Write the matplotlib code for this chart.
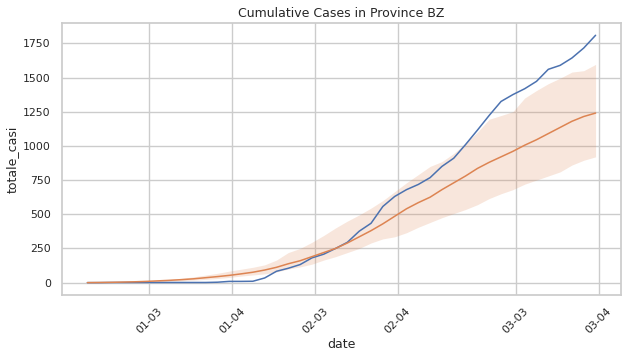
import matplotlib
matplotlib.use("Agg")
import matplotlib.pyplot as plt
import seaborn as sns
import pandas as pd

sns.set_theme(style="whitegrid")
plt.rcParams['font.family'] = ['DejaVu Sans']

# one reading per day, 2020-02-24 .. 2020-04-07 (18:00 bulletins)
dates = pd.date_range("2020-02-24 18:00", periods=44, freq="D")

totale_casi = [0, 0, 1, 1, 1, 1, 1, 1, 1, 1,
               1, 3, 9, 9, 10, 34, 83, 105, 132, 181,
               208, 250, 295, 376, 434, 557, 630, 680, 718, 768,
               850, 910, 1010, 1115, 1223, 1325, 1375, 1418, 1472, 1560,
               1589, 1643, 1716, 1809]

pred_mean = [0, 1, 2, 4, 6, 9, 13, 17, 22, 28,
             36, 44, 53, 64, 76, 92, 112, 138, 160, 190,
             220, 250, 290, 335, 380, 430, 485, 540, 585, 625,
             680, 730, 780, 835, 880, 920, 960, 1005, 1045, 1090,
             1135, 1180, 1215, 1240]

pred_low = [0, 0, 1, 2, 3, 5, 8, 11, 14, 18,
            24, 30, 38, 48, 56, 64, 78, 100, 115, 135,
            165, 190, 220, 250, 290, 320, 335, 365, 405, 440,
            475, 505, 535, 570, 615, 650, 680, 720, 750, 780,
            810, 860, 895, 920]

pred_high = [0, 2, 4, 6, 9, 13, 18, 24, 32, 42,
             55, 68, 84, 98, 112, 130, 165, 220, 250, 295,
             345, 400, 450, 495, 545, 600, 665, 730, 790, 850,
             885, 945, 1020, 1100, 1195, 1222, 1250, 1350, 1405, 1455,
             1495, 1540, 1550, 1596]

tick_dates = pd.to_datetime(["2020-03-01", "2020-03-08", "2020-03-15",
                             "2020-03-22", "2020-04-01", "2020-04-08"])
tick_labels = ["01-03", "01-04", "02-03", "02-04", "03-03", "03-04"]

blue, orange = sns.color_palette("deep")[0], sns.color_palette("deep")[1]

fig, ax = plt.subplots(figsize=(6.26, 3.58), dpi=100)
fig.subplots_adjust(left=0.099, right=0.992, top=0.936, bottom=0.176)

ax.plot(dates, totale_casi, color=blue, lw=1.1)
ax.plot(dates, pred_mean, color=orange, lw=1.1)
ax.fill_between(dates, pred_low, pred_high, color=orange, alpha=0.2, lw=0)

ax.set_xticks(tick_dates)
ax.set_xticklabels(tick_labels, rotation=45)
ax.tick_params(labelsize=7.8, pad=2)
ax.set_yticks([0, 250, 500, 750, 1000, 1250, 1500, 1750])

ax.set_title("Cumulative Cases in Province BZ", fontsize=9, pad=4)
ax.set_xlabel("date", fontsize=9, labelpad=2)
ax.set_ylabel("totale_casi", fontsize=9, labelpad=3)

fig.savefig("out.png", dpi=100)
